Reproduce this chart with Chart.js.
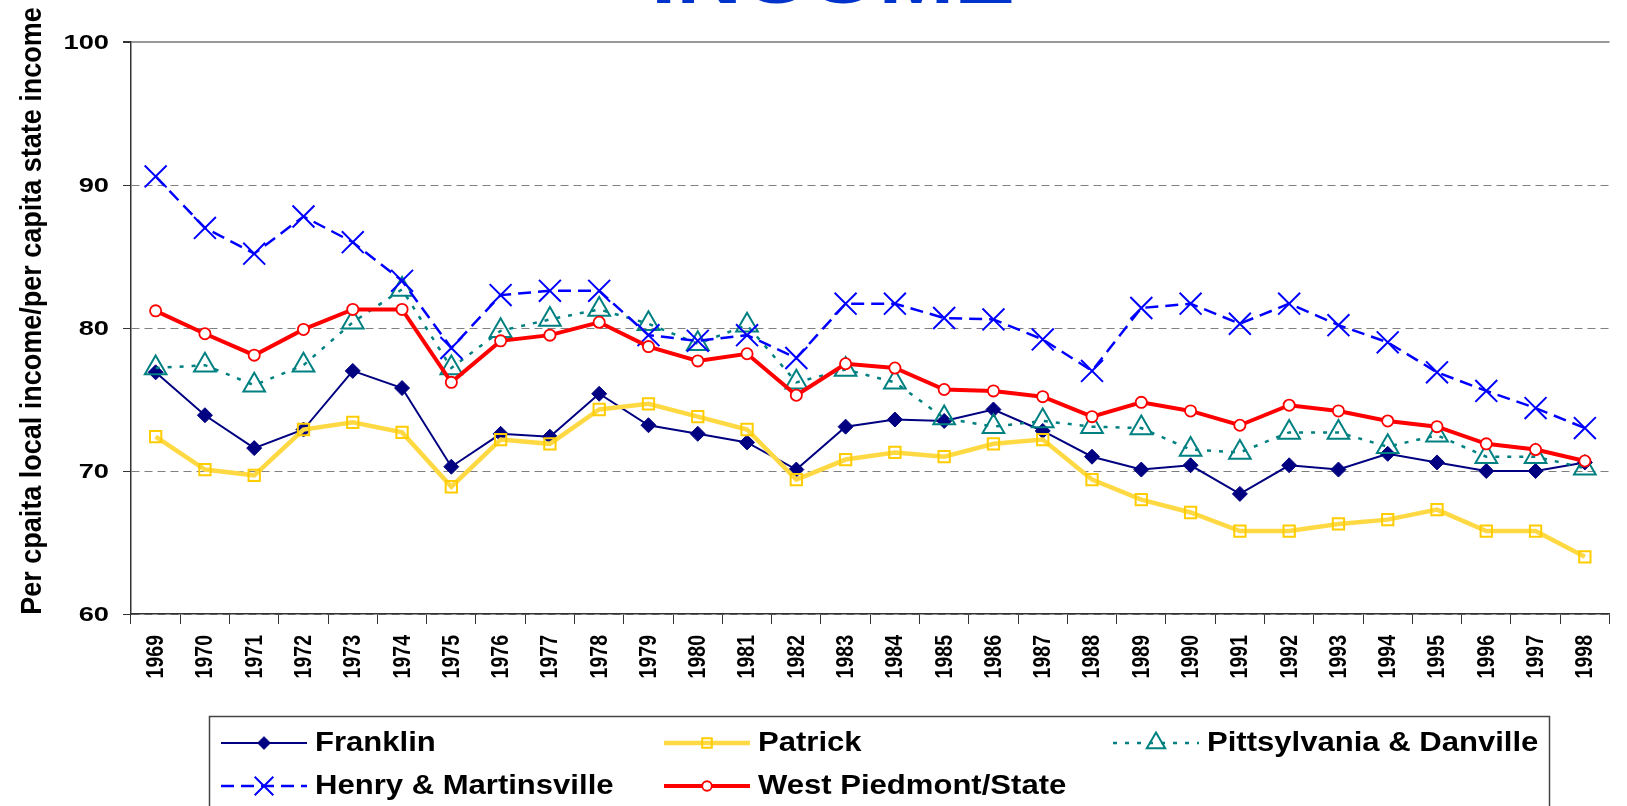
<!DOCTYPE html>
<html>
<head>
<meta charset="utf-8">
<title>Income</title>
<script src="https://cdn.jsdelivr.net/npm/chart.js"></script>
<style>
    html, body { margin: 0; padding: 0; background: #fff; overflow: hidden; }
    canvas { display: block; }
</style>
</head>
<body>
<canvas id="incomeChart" width="1627" height="806"></canvas>
<script>
// values (per capita local income as % of state)
const years = ['1969', '1970', '1971', '1972', '1973', '1974', '1975', '1976', '1977', '1978',
    '1979', '1980', '1981', '1982', '1983', '1984', '1985', '1986', '1987', '1988',
    '1989', '1990', '1991', '1992', '1993', '1994', '1995', '1996', '1997', '1998'];

const franklin = [76.9, 73.9, 71.6, 72.9, 77.0, 75.8, 70.3, 72.6, 72.4, 75.4,
    73.2, 72.6, 72.0, 70.1, 73.1, 73.6, 73.5, 74.3, 72.8, 71.0,
    70.1, 70.4, 68.4, 70.4, 70.1, 71.2, 70.6, 70.0, 70.0, 70.6];

const patrick = [72.4, 70.1, 69.7, 72.9, 73.4, 72.7, 68.9, 72.2, 71.9, 74.3,
    74.7, 73.8, 72.9, 69.4, 70.8, 71.3, 71.0, 71.9, 72.2, 69.4,
    68.0, 67.1, 65.8, 65.8, 66.3, 66.6, 67.3, 65.8, 65.8, 64.0];

const pittsylvania = [77.2, 77.4, 76.0, 77.4, 80.4, 82.7, 77.2, 79.8, 80.6, 81.3,
    80.3, 78.9, 80.2, 76.2, 77.1, 76.2, 73.7, 73.1, 73.5, 73.1,
    73.0, 71.5, 71.3, 72.7, 72.7, 71.7, 72.5, 71.0, 71.0, 70.2];

const henry = [90.6, 87.0, 85.2, 87.8, 86.0, 83.3, 78.6, 82.3, 82.6, 82.6,
    79.5, 79.1, 79.5, 77.9, 81.7, 81.7, 80.7, 80.6, 79.2, 77.0,
    81.4, 81.7, 80.3, 81.7, 80.2, 79.0, 76.9, 75.6, 74.4, 73.0];

const westPiedmont = [81.2, 79.6, 78.1, 79.9, 81.3, 81.3, 76.2, 79.1, 79.5, 80.4,
    78.7, 77.7, 78.2, 75.3, 77.5, 77.2, 75.7, 75.6, 75.2, 73.8,
    74.8, 74.2, 73.2, 74.6, 74.2, 73.5, 73.1, 71.9, 71.5, 70.7];

const yTicks = [60, 70, 80, 90, 100];

const chartTitle = 'INCOME';
const yAxisTitle = 'Per cpaita local income/per capita state income';

const FONT = '"Liberation Sans", Arial, sans-serif';

// the original text is drawn wide (stretched sideways), sx = stretch
function wideText(ctx, text, x, y, o) {
    ctx.save();
    ctx.translate(x, y);
    ctx.scale(o.sx || 1, 1);
    if (o.rotate) ctx.rotate(-Math.PI / 2);
    ctx.font = o.font;
    ctx.fillStyle = o.color || '#000';
    ctx.textAlign = o.align || 'left';
    ctx.textBaseline = o.baseline || 'alphabetic';
    ctx.fillText(text, 0, 0);
    ctx.restore();
}

function drawMarker(ctx, ds, x, y, scale) {
    ctx.save();
    ctx.fillStyle = ds.pointBackgroundColor;
    ctx.strokeStyle = ds.pointBorderColor;
    ctx.lineWidth = ds.pointBorderWidth;
    ctx.setLineDash([]);
    if (Chart.helpers && Chart.helpers.drawPoint) {
        Chart.helpers.drawPoint(ctx, {
            pointStyle: ds.pointStyle,
            radius: ds.pointRadius * scale,
            rotation: 0,
            borderWidth: ds.pointBorderWidth
        }, x, y);
    }
    ctx.restore();
}

// axis labels, title and the boxed legend
const textPlugin = {
    id: 'textPlugin',
    afterDraw(chart) {
        const ctx = chart.ctx;
        const xs = chart.scales.x;
        const ys = chart.scales.y;

        ys.ticks.forEach(t => {
            wideText(ctx, String(t.value), 109, ys.getPixelForValue(t.value) + 1,
                {font: 'bold 20.5px ' + FONT, sx: 1.33, align: 'right', baseline: 'middle'});
        });

        years.forEach((yr, i) => {
            wideText(ctx, yr, xs.getPixelForValue(i) + 1, 635,
                {font: 'bold 19.5px ' + FONT, sx: 1.2, align: 'right', baseline: 'middle', rotate: true});
        });

        wideText(ctx, yAxisTitle, 41, 311,
            {font: 'bold 27px ' + FONT, sx: 1.12, align: 'center', rotate: true});

        wideText(ctx, chartTitle, 833, 3,
            {font: 'bold 70px ' + FONT, sx: 1.3, align: 'center', color: '#0033CC'});

        // legend box
        ctx.save();
        ctx.strokeStyle = '#444';
        ctx.lineWidth = 1.5;
        ctx.strokeRect(209.5, 716.5, 1340, 120);
        ctx.restore();

        const cols = [221, 664, 1113];
        const rows = [743, 786];
        chart.data.datasets.forEach((ds, i) => {
            const x = cols[i % 3];
            const y = rows[Math.floor(i / 3)];
            ctx.save();
            ctx.strokeStyle = ds.borderColor;
            ctx.lineWidth = ds.borderWidth;
            ctx.setLineDash(ds.borderDash || []);
            ctx.beginPath();
            ctx.moveTo(x, y);
            ctx.lineTo(x + 86, y);
            ctx.stroke();
            ctx.restore();
            drawMarker(ctx, ds, x + 43, y, 0.85);
            wideText(ctx, ds.label, x + 94, y + 1,
                {font: 'bold 27px ' + FONT, sx: 1.15, baseline: 'middle'});
        });
    }
};

const ctx = document.getElementById('incomeChart').getContext('2d');
const chart = new Chart(ctx, {
    type: 'line',
    data: {
        labels: years,
        datasets: [
            {
                label: 'Franklin',
                data: franklin,
                borderColor: '#000080',
                borderWidth: 2,
                pointStyle: 'rectRot',
                pointRadius: 7.5,
                pointBackgroundColor: '#000080',
                pointBorderColor: '#000080',
                pointBorderWidth: 1,
                order: 5
            },
            {
                label: 'Patrick',
                data: patrick,
                borderColor: '#FFD943',
                borderWidth: 4.5,
                pointStyle: 'rect',
                pointRadius: 8,
                pointBackgroundColor: 'rgba(0,0,0,0)',
                pointBorderColor: '#FFCC00',
                pointBorderWidth: 2,
                order: 4
            },
            {
                label: 'Pittsylvania & Danville',
                data: pittsylvania,
                borderColor: '#008080',
                borderWidth: 2.5,
                borderDash: [4, 8],
                pointStyle: 'triangle',
                pointRadius: 12.5,
                pointBackgroundColor: 'rgba(0,0,0,0)',
                pointBorderColor: '#008080',
                pointBorderWidth: 2,
                order: 3
            },
            {
                label: 'Henry & Martinsville',
                data: henry,
                borderColor: '#0000FF',
                borderWidth: 2.5,
                borderDash: [13, 7],
                pointStyle: 'crossRot',
                pointRadius: 15.5,
                pointBackgroundColor: 'rgba(0,0,0,0)',
                pointBorderColor: '#0000FF',
                pointBorderWidth: 2,
                order: 2
            },
            {
                label: 'West Piedmont/State',
                data: westPiedmont,
                borderColor: '#FF0000',
                borderWidth: 4,
                pointStyle: 'circle',
                pointRadius: 5.6,
                pointBackgroundColor: '#FFFFFF',
                pointBorderColor: '#FF0000',
                pointBorderWidth: 1.8,
                order: 1
            }
        ]
    },
    options: {
        responsive: false,
        animation: false,
        devicePixelRatio: 1,
        tension: 0,
        layout: {
            padding: {top: 42, left: 0, right: 0, bottom: 0}
        },
        plugins: {
            legend: {display: false},
            tooltip: {enabled: false}
        },
        scales: {
            x: {
                offset: true,
                grid: {
                    offset: true,
                    drawOnChartArea: false,
                    tickLength: 10,
                    tickColor: '#333',
                    tickWidth: 1
                },
                border: {color: '#333', width: 1.5},
                ticks: {display: false},
                afterFit(scale) {
                    scale.height = 192;
                }
            },
            y: {
                min: yTicks[0],
                max: yTicks[yTicks.length - 1],
                afterBuildTicks(scale) {
                    scale.ticks = yTicks.map(v => ({value: v}));
                },
                grid: {
                    color: c => (c.tick && c.tick.value === 100) ? '#999' : '#808080',
                    lineWidth: c => (c.tick && c.tick.value === 100) ? 2 : 1,
                    tickLength: 8,
                    tickColor: '#333'
                },
                border: {
                    color: '#333',
                    width: 1.5,
                    dash: c => (c.tick && c.tick.value === 100) ? [] : [8, 5]
                },
                ticks: {display: false},
                afterFit(scale) {
                    scale.width = 131;
                }
            }
        }
    },
    plugins: [textPlugin]
});
</script>
</body>
</html>
